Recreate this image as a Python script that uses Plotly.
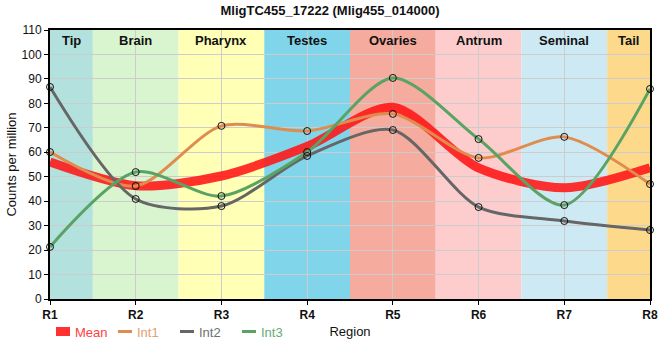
import plotly.graph_objects as go

regions = ["R1", "R2", "R3", "R4", "R5", "R6", "R7", "R8"]
int1 = [60.1, 46.2, 70.8, 68.7, 75.7, 57.7, 66.3, 47.0]
int2 = [86.7, 40.9, 38.0, 58.5, 69.1, 37.6, 31.9, 28.2]
int3 = [21.3, 51.9, 42.1, 60.1, 90.4, 65.4, 38.4, 85.9]
mean = [56.0, 46.3, 50.3, 62.4, 78.4, 53.6, 45.5, 53.7]

band_names = ["Tip", "Brain", "Pharynx", "Testes", "Ovaries", "Antrum", "Seminal", "Tail"]
band_starts = [0, 0.5, 1.5, 2.5, 3.5, 4.5, 5.5, 6.5]
band_ends = [0.5, 1.5, 2.5, 3.5, 4.5, 5.5, 6.5, 7]
band_colors = ["#b3e2de", "#d9f5d0", "#ffffb5", "#80d5eb", "#f5ab9d",
               "#fdcdcd", "#cdeaf4", "#fdda8b"]

xs = list(range(len(regions)))

fig = go.Figure()

shapes = []
annotations = []
for n, s, e, c in zip(band_names, band_starts, band_ends, band_colors):
    shapes.append(dict(type="rect", xref="x", yref="paper", x0=s, x1=e, y0=0, y1=1,
                       fillcolor=c, line=dict(width=0), layer="below"))
    annotations.append(dict(x=(s + e) / 2, y=1, xref="x", yref="paper", text="<b>%s</b>" % n,
                            showarrow=False, yanchor="top", yshift=-1,
                            font=dict(size=13, color="#111", family="Liberation Sans, Arial")))

sm = 0.8
fig.add_trace(go.Scatter(x=xs, y=mean, mode="lines", name='<span style="color:#ff4040">Mean</span>',
                         line=dict(color="rgba(255,20,20,0.88)", width=9, shape="spline", smoothing=sm)))
series = [("Int1", int1, "#df8c4e", "#e0a070"), ("Int2", int2, "#666666", "#707070"),
          ("Int3", int3, "#5aa364", "#66ad74")]
for name, vals, col, tcol in series:
    fig.add_trace(go.Scatter(x=xs, y=vals, mode="lines",
                             name='<span style="color:%s">%s</span>' % (tcol, name),
                             line=dict(color=col, width=3, shape="spline", smoothing=sm)))
for name, vals, col, tcol in series:
    fig.add_trace(go.Scatter(x=xs, y=vals, mode="markers", showlegend=False,
                             marker=dict(symbol="circle", size=7, color="rgba(0,0,0,0)",
                                         line=dict(color="#111", width=1)),
                             cliponaxis=False))

fig.update_layout(
    width=660, height=360,
    margin=dict(l=50, r=10, t=30, b=61, autoexpand=False),
    paper_bgcolor="white", plot_bgcolor="white",
    font=dict(family="Liberation Sans, Arial", size=12, color="#111"),
    title=dict(text="<b>MligTC455_17222 (Mlig455_014000)</b>", x=0.5, xanchor="center",
               y=0.985, yanchor="top", font=dict(size=13, color="#111")),
    shapes=shapes, annotations=annotations,
    showlegend=True,
    legend=dict(orientation="h", x=-0.025, xanchor="left", y=-0.065, yanchor="top",
                font=dict(size=13), bgcolor="rgba(0,0,0,0)", tracegroupgap=0,
                itemwidth=30, entrywidth=17),
    xaxis=dict(tickmode="array", tickvals=xs, ticktext=["<b>%s</b>" % r for r in regions],
               range=[0, 7], showgrid=True, gridcolor="#cccccc", gridwidth=1,
               showline=True, linecolor="black", linewidth=2, mirror=True,
               ticks="outside", ticklen=4, tickcolor="black", zeroline=False,
               automargin=False,
               tickfont=dict(size=12, color="#111"),
               title=dict(text="Region", standoff=5, font=dict(size=13, color="#111"))),
    yaxis=dict(range=[0, 110], tickmode="linear", tick0=0, dtick=10,
               showgrid=True, gridcolor="#cccccc", gridwidth=1,
               showline=True, linecolor="black", linewidth=2, mirror=True,
               ticks="outside", ticklen=4, tickcolor="black", zeroline=False,
               automargin=False,
               tickfont=dict(size=12, color="#111"),
               title=dict(text="Counts per million", standoff=2, font=dict(size=13, color="#111"))),
)

post = (
    "document.body.style.margin='0';"
    "document.querySelectorAll('.legendlines path').forEach(function(p){"
    "p.setAttribute('d','M21,0h14');p.style.strokeLinecap='butt';});"
)
fig.write_html("out.html", config={"displayModeBar": False}, post_script=post)
